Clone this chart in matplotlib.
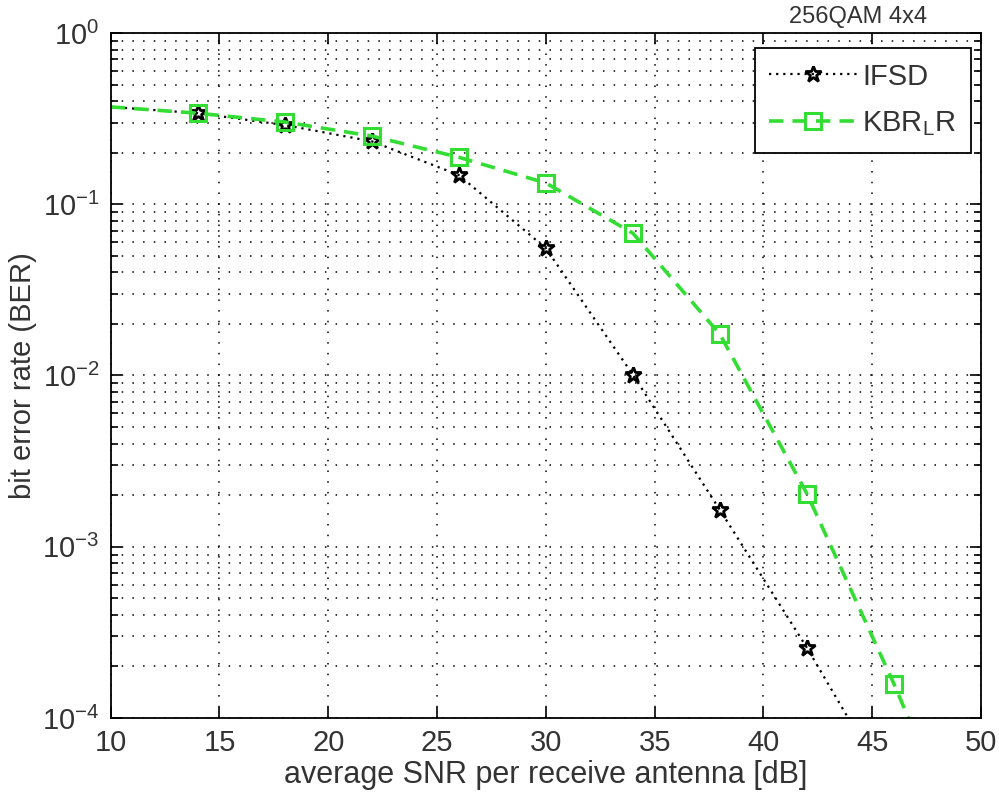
import matplotlib
matplotlib.use('Agg')
import matplotlib.pyplot as plt
from matplotlib.ticker import LogLocator, MultipleLocator, NullFormatter

plt.rcParams['font.family'] = ['Liberation Sans', 'DejaVu Sans']
plt.rcParams['mathtext.fontset'] = 'custom'
plt.rcParams['mathtext.rm'] = 'Liberation Sans'
plt.rcParams['mathtext.it'] = 'Liberation Sans'

# data
snr = [10, 14, 18, 22, 26, 30, 34, 38, 42, 46, 50]
ber_ifsd = [0.37, 0.340, 0.290, 0.233, 0.148, 0.0553, 0.0101, 0.00164, 2.57e-4, 3.5e-5]
ber_kbr = [0.37, 0.340, 0.302, 0.250, 0.188, 0.133, 0.0677, 0.0174, 0.00204, 1.58e-4, 1.0e-5]

green = '#33dd33'

fig = plt.figure(figsize=(9.99, 8.0), dpi=100)
ax = fig.add_axes([0.1108, 0.1025, 0.8712, 0.8563])

ax.semilogy(snr[:len(ber_ifsd)], ber_ifsd, color='black', linestyle=(0, (1, 2.2)), lw=1.6,
            marker='*', markersize=12, markerfacecolor='none', markeredgecolor='black',
            markeredgewidth=2, markevery=slice(1, None), label='IFSD')
ax.semilogy(snr, ber_kbr, color=green, linestyle=(0, (4, 2.5)), lw=2.6,
            marker='s', markersize=12, markerfacecolor='none', markeredgecolor=green,
            markeredgewidth=2.2, markevery=slice(1, None), label='KBR$_L$R')

ax.set_xlim(10, 50)
ax.set_ylim(1e-4, 1)
ax.xaxis.set_major_locator(MultipleLocator(5))
ax.yaxis.set_major_locator(LogLocator(base=10, numticks=10))
ax.yaxis.set_minor_locator(LogLocator(base=10, subs=range(2, 10), numticks=20))
ax.yaxis.set_minor_formatter(NullFormatter())

ax.grid(True, which='major', axis='both', color='black', linestyle=(0, (1, 6)), lw=1.1)
ax.grid(True, which='minor', axis='y', color='black', linestyle=(0, (1, 6)), lw=1.1)

ax.tick_params(which='both', direction='in', top=True, right=True, labelsize=21,
               colors='black', labelcolor='#333333', pad=8)
ax.tick_params(which='major', length=8, width=1.2)
ax.tick_params(which='minor', length=5, width=1.2)
for s in ax.spines.values():
    s.set_linewidth(1.3)

ax.set_xlabel('average SNR per receive antenna [dB]', fontsize=22, color='#333333', labelpad=2)
ax.set_ylabel('bit error rate (BER)', fontsize=21, color='#333333', labelpad=4)
fig.text(0.859, 0.979, '256QAM 4x4', fontsize=17, color='#333333', ha='center', va='center')

leg = ax.legend(loc='upper right', bbox_to_anchor=(971 / 999, 1 - 48 / 800),
                bbox_transform=fig.transFigure, borderaxespad=0,
                fontsize=21, handlelength=3.0, fancybox=False, framealpha=1,
                edgecolor='black', labelspacing=0.65, handletextpad=0.2, borderpad=0.5)
leg.get_frame().set_linewidth(1.3)
for t in leg.get_texts():
    t.set_color('#333333')

fig.savefig('out.png', dpi=100)
